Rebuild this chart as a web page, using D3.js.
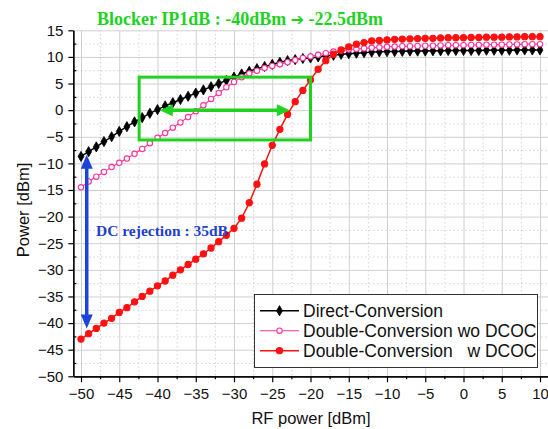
<!DOCTYPE html>
<html>
<head>
<meta charset="utf-8">
<script src="https://cdn.jsdelivr.net/npm/d3@7"></script>
<style>
  body { margin: 0; background: #fff; }
  svg { display: block; font-family: "Liberation Sans", Arial, sans-serif; }
</style>
</head>
<body>
<script>
// RF input power sweep [dBm]
var rfPower = [-50, -49, -48, -47, -46, -45, -44, -43, -42, -41, -40, -39, -38, -37, -36, -35,
    -34, -33, -32, -31, -30, -29, -28, -27, -26, -25, -24, -23, -22, -21, -20, -19, -18, -17,
    -16, -15, -14, -13, -12, -11, -10, -9, -8, -7, -6, -5, -4, -3, -2, -1, 0, 1, 2, 3, 4, 5,
    6, 7, 8, 9, 10]

var directConv = [-8.7, -7.8, -6.9, -5.9, -5.0, -4.0, -3.1, -2.2, -1.4, -0.6, 0.1, 0.8, 1.4,
    2.0, 2.6, 3.2, 3.8, 4.4, 5.0, 5.6, 6.2, 6.8, 7.3, 7.8, 8.2, 8.6, 9.0, 9.3, 9.5, 9.7, 9.8,
    10.0, 10.2, 10.3, 10.5, 10.6, 10.7, 10.8, 10.9, 10.95, 11.0, 11.0, 11.05, 11.1, 11.1, 11.1,
    11.15, 11.15, 11.2, 11.2, 11.2, 11.2, 11.2, 11.25, 11.25, 11.25, 11.25, 11.3, 11.3, 11.3, 11.3]

var doubleConvWo = [-14.5, -13.4, -12.5, -11.6, -10.7, -9.9, -9.1, -8.2, -7.3, -6.2, -5.2,
    -4.3, -3.3, -2.3, -1.3, -0.2, 0.9, 2.1, 3.2, 4.3, 5.3, 6.2, 6.9, 7.4, 7.9, 8.3, 8.6, 9.0,
    9.4, 9.8, 10.1, 10.4, 10.7, 11.0, 11.2, 11.4, 11.5, 11.6, 11.7, 11.8, 11.9, 11.95, 12.0,
    12.0, 12.05, 12.1, 12.1, 12.15, 12.2, 12.2, 12.2, 12.25, 12.25, 12.3, 12.3, 12.3, 12.35,
    12.35, 12.4, 12.4, 12.4]

var doubleConvW = [-43.0, -42.0, -41.0, -40.0, -39.1, -38.0, -37.1, -36.0, -35.0, -34.0, -33.0,
    -32.1, -31.0, -30.0, -29.0, -28.0, -27.0, -25.9, -24.7, -23.5, -22.2, -20.3, -17.4, -13.9,
    -10.1, -6.6, -3.6, -0.8, 1.6, 3.7, 5.7, 7.7, 9.3, 10.5, 11.3, 11.9, 12.4, 12.7, 13.0, 13.1,
    13.2, 13.3, 13.35, 13.4, 13.45, 13.5, 13.5, 13.55, 13.6, 13.6, 13.6, 13.65, 13.65, 13.7,
    13.7, 13.7, 13.75, 13.75, 13.8, 13.8, 13.8]

var seriesNames = ["Direct-Conversion", "Double-Conversion wo DCOC", "Double-Conversion   w DCOC"]

var xTicks = [-50, -45, -40, -35, -30, -25, -20, -15, -10, -5, 0, 5, 10]
var yTicks = [15, 10, 5, 0, -5, -10, -15, -20, -25, -30, -35, -40, -45, -50]

// annotations (data coordinates)
var blockerBox = {x0: -42.4, x1: -20.0, y0: -5.6, y1: 6.2}
var blockerArrow = {x0: -39.7, x1: -22.7, y: 0}
var dcArrow = {x: -49.25, y0: -8.4, y1: -41.0}

var W = 548, H = 429
var serif = "'Liberation Serif', 'Times New Roman', serif"

var x = d3.scaleLinear().domain([-51, 11]).range([73.35, 547.65])
var y = d3.scaleLinear().domain([-50, 15]).range([376.3, 30.3])

var svg = d3.select("body").append("svg").attr("width", W).attr("height", H)

var minorX = d3.range(-50, 11, 2.5), minorY = d3.range(-50, 15.1, 2.5)

// grid
var grid = svg.append("g")
grid.selectAll(".gx").data(minorX).enter().append("line")
    .attr("x1", function(d) { return x(d) + 0.5 }).attr("x2", function(d) { return x(d) + 0.5 })
    .attr("y1", y(15)).attr("y2", y(-50))
    .attr("stroke", function(d) { return d % 5 === 0 ? "#d0d0d0" : "#bdbdbd" })
    .attr("stroke-width", 1)
    .attr("stroke-dasharray", function(d) { return d % 5 === 0 ? null : "1,3" })
grid.selectAll(".gy").data(minorY).enter().append("line")
    .attr("y1", function(d) { return y(d) + 0.5 }).attr("y2", function(d) { return y(d) + 0.5 })
    .attr("x1", x(-51)).attr("x2", W)
    .attr("stroke", function(d) { return d % 5 === 0 ? "#d0d0d0" : "#bdbdbd" })
    .attr("stroke-width", 1)
    .attr("stroke-dasharray", function(d) { return d % 5 === 0 ? null : "1,3" })

// axes
svg.append("g").attr("transform", "translate(0," + y(-50) + ")")
    .call(d3.axisBottom(x).tickValues(xTicks).tickSize(6).tickPadding(6).tickSizeOuter(0))
svg.append("g").attr("transform", "translate(0," + y(-50) + ")")
    .call(d3.axisBottom(x).tickValues(minorX.filter(function(d) { return d % 5 !== 0 }))
        .tickSize(3).tickFormat("").tickSizeOuter(0))
svg.append("g").attr("transform", "translate(" + x(-51) + ",0)")
    .call(d3.axisLeft(y).tickValues(yTicks).tickSize(5).tickPadding(5).tickSizeOuter(0))
svg.append("g").attr("transform", "translate(" + x(-51) + ",0)")
    .call(d3.axisRight(y).tickValues(minorY.filter(function(d) { return d % 5 !== 0 }))
        .tickSize(3).tickFormat("").tickSizeOuter(0))

svg.selectAll(".domain").attr("stroke", "#000").attr("stroke-width", 1.2)
svg.selectAll(".tick line").attr("stroke", "#000").attr("stroke-width", 1.2)
svg.selectAll(".tick text").style("font-family", "'Liberation Sans', Arial, sans-serif")
    .style("font-size", "15px").attr("fill", "#111")

svg.append("text").attr("x", 311).attr("y", 424).attr("text-anchor", "middle")
    .style("font-size", "16.5px").attr("fill", "#111").text("RF power [dBm]")
svg.append("text").attr("transform", "translate(29,210) rotate(-90)")
    .attr("text-anchor", "middle").style("font-size", "16.5px").attr("fill", "#111").text("Power [dBm]")

// series
var series = [
    {name: seriesNames[0], values: directConv, color: "#000000", width: 1.5, marker: "diamond", fill: "#000000"},
    {name: seriesNames[1], values: doubleConvWo, color: "#ff3399", width: 1.1, marker: "circle", fill: "#ffffff"},
    {name: seriesNames[2], values: doubleConvW, color: "#ff1010", width: 1.5, marker: "circle", fill: "#ff1010"}
]

var line = d3.line().x(function(d) { return x(d[0]) }).y(function(d) { return y(d[1]) })

function drawMarker(g, s, cx, cy) {
    if (s.marker === "diamond") {
        g.append("path")
            .attr("d", d3.symbol().type(d3.symbolDiamond).size(30)())
            .attr("transform", "translate(" + cx + "," + cy + ")")
            .attr("fill", s.fill).attr("stroke", s.color).attr("stroke-width", 0.8)
    } else {
        g.append("circle").attr("cx", cx).attr("cy", cy)
            .attr("r", s.fill === "#ffffff" ? 2.7 : 3.1)
            .attr("fill", s.fill).attr("stroke", s.color).attr("stroke-width", 1.1)
    }
}

series.forEach(function(s) {
    var pts = rfPower.map(function(p, i) { return [p, s.values[i]] })
    var g = svg.append("g")
    g.append("path").datum(pts).attr("d", line)
        .attr("fill", "none").attr("stroke", s.color).attr("stroke-width", s.width)
    pts.forEach(function(p) { drawMarker(g, s, x(p[0]), y(p[1])) })
})

// green annotation
var green = "#1fd21f"
svg.append("rect")
    .attr("x", x(blockerBox.x0)).attr("y", y(blockerBox.y1))
    .attr("width", x(blockerBox.x1) - x(blockerBox.x0))
    .attr("height", y(blockerBox.y0) - y(blockerBox.y1))
    .attr("fill", "none").attr("stroke", green).attr("stroke-width", 3)

function doubleArrow(x1, y1, x2, y2, color, w, headL, headW) {
    var ang = Math.atan2(y2 - y1, x2 - x1), ca = Math.cos(ang), sa = Math.sin(ang)
    svg.append("line")
        .attr("x1", x1 + ca * headL * 0.8).attr("y1", y1 + sa * headL * 0.8)
        .attr("x2", x2 - ca * headL * 0.8).attr("y2", y2 - sa * headL * 0.8)
        .attr("stroke", color).attr("stroke-width", w)
    function head(tx, ty, dir) {
        var bx = tx - dir * ca * headL, by = ty - dir * sa * headL
        svg.append("path")
            .attr("d", "M" + tx + "," + ty +
                "L" + (bx - sa * headW) + "," + (by + ca * headW) +
                "L" + (bx + sa * headW) + "," + (by - ca * headW) + "Z")
            .attr("fill", color)
    }
    head(x2, y2, 1)
    head(x1, y1, -1)
}

doubleArrow(x(blockerArrow.x0), y(blockerArrow.y), x(blockerArrow.x1), y(blockerArrow.y),
    green, 3.5, 13, 6)
doubleArrow(x(dcArrow.x), y(dcArrow.y0), x(dcArrow.x), y(dcArrow.y1),
    "#1c44d8", 3.5, 14, 6)

var title = svg.append("text").attr("x", 97).attr("y", 25)
    .style("font-family", serif).style("font-weight", "bold").style("font-size", "18px")
    .attr("fill", green)
title.append("tspan").text("Blocker IP1dB : -40dBm ")
title.append("tspan").style("font-family", "'DejaVu Sans', sans-serif").style("font-size", "16px")
    .text("\u2794")
title.append("tspan").text(" -22.5dBm")

svg.append("text").attr("x", 96).attr("y", 236)
    .style("font-family", serif).style("font-weight", "bold").style("font-size", "15.5px")
    .attr("fill", "#1f3fcc")
    .text("DC rejection : 35dB")

// legend
var lg = svg.append("g")
lg.append("rect").attr("x", 254.5).attr("y", 294.5).attr("width", 283).attr("height", 73)
    .attr("fill", "#fff").attr("stroke", "#333").attr("stroke-width", 1)
series.forEach(function(s, i) {
    var cy = 310.7 + i * 20
    lg.append("line").attr("x1", 260).attr("x2", 299).attr("y1", cy).attr("y2", cy)
        .attr("stroke", s.color).attr("stroke-width", s.width)
    drawMarker(lg, s, 279.5, cy)
    lg.append("text").attr("x", 303).attr("y", cy).attr("dy", "0.36em")
        .style("font-size", "17.5px").attr("fill", "#111")
        .style("white-space", "pre")
        .text(s.name)
})
</script>
</body>
</html>
